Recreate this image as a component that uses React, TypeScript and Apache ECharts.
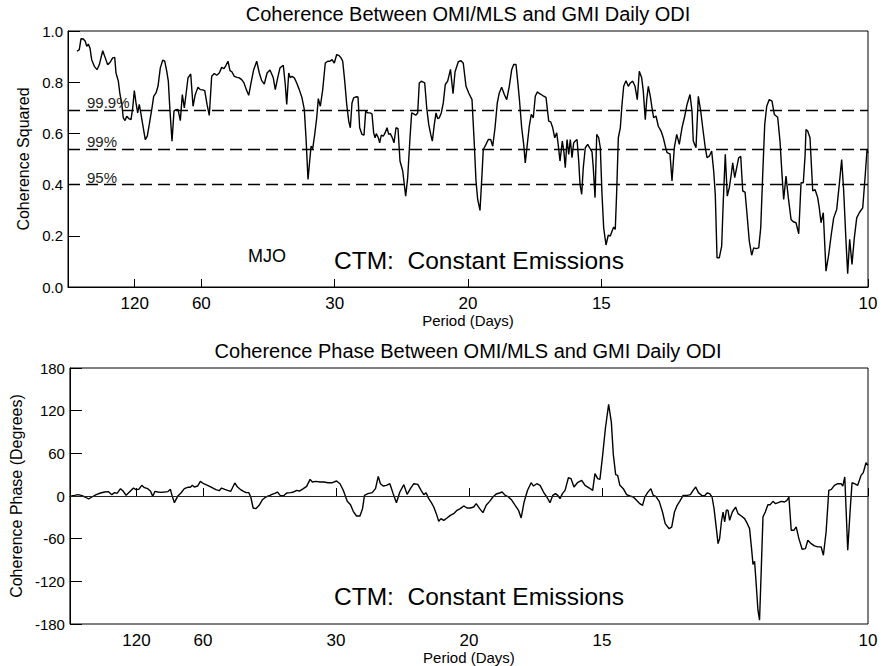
import React, { useEffect, useRef } from 'react';
import * as echarts from 'echarts';

// Frequency in 1e-3 cycles/day, paired with coherence squared
const coherenceSquared: [number, number][] = [
  [1.13,0.921],[1.41,0.927],[1.63,0.970],[1.91,0.969],[2.16,0.960],[2.34,0.940],[2.54,0.949],[2.75,0.933],[2.96,0.888],[3.29,0.862],[3.63,0.849],[3.91,0.868],[4.34,0.923],[4.66,0.895],[4.96,0.868],[5.29,0.879],[5.59,0.895],[5.84,0.897],[6.00,0.836],[6.29,0.804],[6.50,0.752],[6.71,0.719],[6.91,0.661],[7.13,0.650],[7.34,0.667],[7.59,0.658],[7.88,0.654],[8.09,0.700],[8.29,0.767],[8.50,0.719],[8.71,0.680],[8.91,0.713],[9.13,0.674],[9.41,0.622],[9.66,0.576],[9.91,0.589],[10.16,0.635],[10.50,0.700],[10.71,0.745],[11.00,0.758],[11.25,0.784],[11.54,0.856],[11.84,0.886],[12.09,0.882],[12.34,0.843],[12.54,0.804],[12.75,0.687],[13.00,0.570],[13.25,0.687],[13.50,0.693],[13.75,0.694],[14.04,0.650],[14.29,0.752],[14.54,0.700],[14.75,0.752],[15.00,0.817],[15.34,0.832],[15.63,0.706],[15.91,0.752],[16.25,0.780],[16.54,0.771],[16.84,0.770],[17.09,0.767],[17.38,0.713],[17.66,0.670],[17.96,0.823],[18.29,0.834],[18.59,0.827],[18.91,0.836],[19.21,0.858],[19.50,0.853],[19.75,0.866],[20.00,0.882],[20.25,0.845],[20.50,0.840],[20.79,0.823],[21.13,0.819],[21.41,0.817],[21.71,0.810],[22.00,0.797],[22.29,0.771],[22.59,0.749],[22.88,0.797],[23.21,0.849],[23.59,0.882],[23.91,0.836],[24.21,0.806],[24.54,0.793],[24.88,0.836],[25.25,0.848],[25.66,0.817],[25.91,0.771],[26.21,0.817],[26.50,0.856],[26.91,0.866],[27.16,0.791],[27.34,0.713],[27.59,0.836],[27.79,0.817],[28.00,0.823],[28.29,0.817],[28.59,0.797],[28.91,0.771],[29.25,0.739],[29.54,0.693],[29.75,0.583],[30.00,0.420],[30.21,0.492],[30.38,0.550],[30.59,0.541],[30.84,0.596],[31.09,0.661],[31.29,0.736],[31.54,0.706],[31.84,0.771],[32.16,0.875],[32.46,0.882],[32.75,0.882],[33.00,0.888],[33.29,0.875],[33.59,0.908],[33.84,0.905],[34.13,0.895],[34.34,0.882],[34.59,0.804],[34.84,0.713],[35.09,0.648],[35.29,0.622],[35.50,0.719],[35.71,0.739],[36.00,0.743],[36.25,0.742],[36.46,0.622],[36.75,0.596],[37.00,0.593],[37.21,0.687],[37.46,0.680],[37.75,0.680],[38.00,0.676],[38.21,0.602],[38.38,0.583],[38.54,0.599],[38.79,0.583],[38.96,0.563],[39.16,0.593],[39.41,0.589],[39.63,0.602],[39.88,0.622],[40.09,0.596],[40.29,0.599],[40.54,0.583],[40.75,0.563],[41.00,0.622],[41.25,0.619],[41.50,0.492],[41.84,0.453],[42.21,0.355],[42.46,0.427],[42.75,0.583],[42.96,0.680],[43.21,0.676],[43.46,0.671],[43.71,0.680],[43.91,0.797],[44.16,0.804],[44.34,0.801],[44.59,0.797],[44.84,0.700],[45.09,0.635],[45.34,0.596],[45.54,0.570],[45.79,0.635],[46.00,0.680],[46.21,0.658],[46.41,0.661],[46.66,0.680],[46.91,0.719],[47.16,0.791],[47.46,0.804],[47.81,0.850],[48.13,0.755],[48.38,0.841],[48.79,0.880],[49.13,0.884],[49.41,0.874],[49.75,0.784],[50.09,0.758],[50.50,0.732],[50.79,0.557],[51.00,0.414],[51.21,0.342],[51.50,0.299],[51.75,0.440],[51.91,0.537],[52.25,0.557],[52.54,0.576],[52.84,0.576],[53.09,0.550],[53.38,0.622],[53.66,0.719],[53.91,0.758],[54.21,0.780],[54.54,0.752],[54.84,0.732],[55.16,0.784],[55.46,0.849],[55.71,0.869],[56.00,0.869],[56.21,0.804],[56.41,0.739],[56.71,0.622],[56.96,0.557],[57.16,0.485],[57.41,0.557],[57.66,0.628],[57.91,0.674],[58.16,0.661],[58.41,0.745],[58.66,0.762],[59.00,0.754],[59.34,0.748],[59.75,0.741],[60.09,0.648],[60.34,0.645],[60.59,0.622],[60.84,0.583],[61.09,0.602],[61.25,0.563],[61.50,0.492],[61.79,0.570],[62.00,0.524],[62.16,0.466],[62.38,0.576],[62.59,0.518],[62.79,0.576],[63.00,0.505],[63.21,0.563],[63.41,0.570],[63.63,0.576],[63.84,0.492],[64.00,0.401],[64.21,0.362],[64.41,0.466],[64.66,0.544],[64.96,0.557],[65.25,0.541],[65.50,0.528],[65.66,0.466],[65.88,0.349],[66.09,0.596],[66.34,0.583],[66.54,0.544],[66.75,0.362],[66.96,0.231],[67.25,0.164],[67.54,0.203],[67.79,0.199],[68.00,0.218],[68.21,0.234],[68.41,0.225],[68.59,0.375],[68.79,0.583],[69.04,0.622],[69.25,0.713],[69.46,0.784],[69.75,0.806],[70.04,0.784],[70.29,0.797],[70.59,0.804],[70.88,0.784],[71.16,0.732],[71.41,0.843],[71.71,0.817],[71.91,0.765],[72.16,0.654],[72.34,0.732],[72.54,0.784],[72.79,0.745],[73.00,0.700],[73.21,0.661],[73.50,0.668],[73.79,0.628],[74.13,0.609],[74.41,0.583],[74.66,0.550],[74.88,0.525],[75.25,0.520],[75.50,0.414],[75.79,0.544],[76.09,0.596],[76.41,0.557],[76.75,0.622],[77.09,0.667],[77.38,0.713],[77.75,0.752],[78.00,0.687],[78.16,0.570],[78.50,0.544],[78.79,0.745],[79.09,0.687],[79.34,0.622],[79.66,0.544],[79.88,0.505],[80.16,0.511],[80.46,0.531],[80.71,0.453],[80.91,0.362],[81.13,0.114],[81.41,0.114],[81.71,0.160],[81.91,0.336],[82.16,0.518],[82.41,0.355],[82.66,0.388],[82.91,0.440],[83.09,0.485],[83.34,0.427],[83.59,0.466],[83.84,0.505],[84.09,0.511],[84.34,0.375],[84.63,0.371],[84.88,0.283],[85.16,0.179],[85.46,0.124],[85.71,0.153],[86.00,0.150],[86.34,0.153],[86.59,0.231],[86.84,0.440],[87.09,0.635],[87.34,0.706],[87.66,0.732],[88.00,0.726],[88.29,0.674],[88.71,0.663],[89.00,0.570],[89.25,0.440],[89.46,0.342],[89.75,0.433],[90.04,0.349],[90.38,0.264],[90.66,0.255],[91.00,0.251],[91.34,0.208],[91.63,0.407],[91.91,0.407],[92.13,0.511],[92.25,0.615],[92.46,0.609],[92.75,0.583],[93.09,0.375],[93.38,0.381],[93.71,0.349],[93.91,0.309],[94.13,0.251],[94.41,0.290],[94.75,0.062],[95.09,0.127],[95.41,0.205],[95.71,0.270],[96.09,0.303],[96.41,0.401],[96.71,0.498],[96.96,0.375],[97.25,0.179],[97.46,0.052],[97.71,0.186],[98.00,0.088],[98.29,0.192],[98.59,0.270],[98.91,0.290],[99.34,0.309],[99.63,0.427],[99.88,0.537],[100.00,0.524]
];

// Frequency in 1e-3 cycles/day, paired with coherence phase in degrees
const coherencePhase: [number, number][] = [
  [0.16,0],[0.59,0.9],[1.00,1.9],[1.41,0.9],[1.91,-1.4],[2.34,-4.2],[2.75,-1.4],[3.29,1.9],[3.84,4.2],[4.34,5.6],[4.84,6.1],[5.25,1.9],[5.59,4.7],[5.91,3.7],[6.34,10.3],[6.66,7.0],[7.04,0.9],[7.46,5.6],[7.96,11.2],[8.29,8.9],[8.63,9.4],[9.00,15.0],[9.34,11.7],[9.75,10.3],[10.09,7.0],[10.38,-0.5],[10.66,6.6],[11.00,5.6],[11.41,5.1],[11.84,5.6],[12.25,6.1],[12.59,9.4],[12.79,0.9],[13.09,-9.4],[13.50,-0.5],[13.91,4.2],[14.34,10.3],[14.75,12.2],[15.09,12.2],[15.34,15.0],[15.59,12.6],[16.00,14.0],[16.34,20.6],[16.75,17.3],[17.25,15.0],[17.75,12.2],[18.29,8.9],[18.71,7.5],[19.00,11.2],[19.41,9.4],[19.75,8.0],[20.16,6.6],[20.66,18.3],[21.00,12.6],[21.34,9.4],[21.75,6.6],[22.09,4.7],[22.41,4.7],[22.66,-1.4],[22.96,-16.9],[23.29,-17.8],[23.71,-13.1],[24.13,-5.2],[24.54,-1.4],[25.09,0.9],[25.25,1.9],[25.66,3.7],[26.00,5.6],[26.34,0.9],[26.75,0],[27.16,4.2],[27.66,4.7],[28.00,5.6],[28.41,8.0],[28.75,7.0],[29.25,10.3],[29.66,13.6],[30.09,23.4],[30.38,19.7],[30.79,20.6],[31.34,19.7],[31.84,19.7],[32.34,18.7],[32.88,18.7],[33.41,21.1],[33.84,17.3],[34.25,8.0],[34.75,-7.5],[35.16,-12.2],[35.50,-21.5],[35.91,-28.1],[36.34,-28.1],[36.66,-17.8],[36.91,0.9],[37.34,3.3],[37.88,4.7],[38.29,10.3],[38.63,27.6],[38.91,17.3],[39.25,14.0],[39.66,15.0],[40.09,17.3],[40.50,3.3],[40.91,-9.4],[41.34,5.6],[41.84,15.9],[42.25,2.3],[42.66,10.3],[43.09,17.3],[43.59,16.4],[44.00,8.0],[44.34,1.9],[44.63,4.7],[44.96,-3.7],[45.29,-9.4],[45.59,-15.5],[45.91,-24.8],[46.21,-35.6],[46.50,-31.8],[46.84,-34.2],[47.25,-30.9],[47.66,-27.2],[48.09,-24.8],[48.50,-20.1],[48.91,-17.8],[49.34,-14.0],[49.75,-16.9],[50.16,-16.9],[50.59,-15.5],[50.91,-10.8],[51.34,-17.8],[51.75,-23.4],[52.16,-13.1],[52.59,-7.5],[53.00,-1.4],[53.41,2.8],[53.84,4.2],[54.16,5.6],[54.54,0.9],[54.96,-1.4],[55.38,-6.1],[55.79,-13.1],[56.21,-20.1],[56.54,-30.9],[56.91,-8.4],[57.34,8.0],[57.79,18.7],[58.09,14.0],[58.50,17.3],[58.91,15.0],[59.34,5.6],[59.75,-1.4],[60.16,-9.4],[60.50,0.9],[60.84,3.3],[61.13,0.9],[61.41,-3.7],[61.71,3.3],[62.04,8.0],[62.46,25.7],[62.79,24.4],[63.16,12.6],[63.59,18.7],[64.13,22.0],[64.54,15.0],[65.09,11.2],[65.50,8.0],[65.79,31.4],[66.13,24.4],[66.41,23.4],[66.75,57.1],[67.09,94.6],[67.50,128.8],[67.84,103.9],[68.09,58.1],[68.38,30.0],[68.63,29.0],[68.91,15.0],[69.34,10.3],[69.75,1.9],[70.16,0],[70.59,-1.4],[71.00,-6.1],[71.41,-10.8],[71.75,-13.1],[72.04,-1.4],[72.38,4.7],[72.79,10.3],[73.09,0.9],[73.41,-0.5],[73.84,-7.5],[74.25,-22.5],[74.59,-38.9],[75.09,-46.0],[75.41,-43.5],[75.75,-22.5],[76.09,-13.1],[76.41,-7.5],[76.84,0.9],[77.34,0.9],[77.75,1.9],[78.09,8.0],[78.41,12.6],[78.75,4.7],[79.16,0.9],[79.50,0],[79.84,4.2],[80.16,3.3],[80.46,-1.4],[80.71,-17.8],[81.00,-45.9],[81.21,-67.0],[81.41,-59.9],[81.63,-36.5],[81.84,-22.5],[82.04,-36.5],[82.25,-20.1],[82.46,-20.1],[82.66,-34.2],[83.00,-22.5],[83.41,-15.5],[83.71,-24.8],[84.13,-28.1],[84.54,-31.8],[84.88,-38.9],[85.16,-45.9],[85.41,-74.0],[85.59,-96.4],[85.79,-91.8],[86.00,-125.5],[86.21,-160.6],[86.41,-174.6],[86.63,-102.0],[86.84,-29.5],[87.13,-22.5],[87.46,-12.2],[87.75,-12.2],[88.09,-7.5],[88.41,-10.8],[88.75,-9.4],[89.13,-7.5],[89.54,-8.4],[89.84,-6.1],[90.09,-1.4],[90.38,-48.2],[90.71,-48.2],[91.00,-43.5],[91.34,-59.9],[91.75,-74.9],[92.16,-74.0],[92.46,-62.3],[92.88,-67.0],[93.29,-70.2],[93.71,-71.6],[94.13,-71.6],[94.41,-83.3],[94.75,-50.6],[95.09,8.0],[95.41,9.4],[95.79,15.0],[96.21,17.3],[96.63,17.3],[96.84,14.0],[97.09,26.7],[97.46,-76.3],[97.75,-22.5],[98.00,18.7],[98.29,17.3],[98.71,15.0],[99.13,29.0],[99.41,32.8],[99.75,46.8],[100.00,43.1]
];

const periodTicks = [120, 60, 30, 20, 15, 10];
const confidenceLevels = [0.685, 0.535, 0.395];
const confidenceLabels = ['99.9%', '99%', '95%'];
const cohYTicks = { min: 0, max: 1, interval: 0.2 };
const phaseYTicks = { min: -180, max: 180, interval: 60 };

const FONT = '"Liberation Sans", Arial, Helvetica, sans-serif';
const INK = '#000';

export default function App() {
  const ref = useRef<HTMLDivElement>(null);

  useEffect(() => {
    if (!ref.current) return;
    const chart = echarts.init(ref.current, null, { renderer: 'svg' });
    const tickFreqs = periodTicks.map((p) => 1 / p);

    const makeX = (gridIndex: number, nameGap: number) => ({
      type: 'value',
      gridIndex,
      min: 0,
      max: 0.1,
      splitLine: { show: false },
      axisLine: { show: true, lineStyle: { color: INK, width: 1 } },
      axisTick: { show: true, inside: true, length: 8, customValues: tickFreqs, lineStyle: { color: INK, width: 1 } },
      axisLabel: {
        customValues: tickFreqs,
        showMinLabel: true,
        showMaxLabel: true,
        formatter: (v: number) => String(Math.round(1 / v)),
        fontSize: 17,
        color: INK,
        margin: 8,
        fontFamily: FONT,
      },
      name: 'Period (Days)',
      nameLocation: 'middle',
      nameGap,
      nameTextStyle: { fontSize: 15, color: INK, fontFamily: FONT },
    });

    const makeY = (gridIndex: number, ticks: any, name: string, nameGap: number, digits: number) => ({
      type: 'value',
      gridIndex,
      min: ticks.min,
      max: ticks.max,
      interval: ticks.interval,
      splitLine: { show: false },
      axisLine: { show: true, lineStyle: { color: INK, width: 1 } },
      axisTick: { show: true, inside: true, length: 12, lineStyle: { color: INK, width: 1 } },
      axisLabel: {
        formatter: (v: number) => v.toFixed(digits),
        fontSize: 15,
        color: INK,
        margin: 5,
        fontFamily: FONT,
      },
      name,
      nameLocation: 'middle',
      nameGap,
      nameTextStyle: { fontSize: 16, color: INK, fontFamily: FONT },
    });

    const option: any = {
      animation: false,
      backgroundColor: '#fff',
      textStyle: { fontFamily: FONT },
      grid: [
        { left: 68, top: 31, width: 800, height: 256, show: true, borderColor: INK, borderWidth: 1, backgroundColor: 'transparent' },
        { left: 68, top: 368, width: 800, height: 256, show: true, borderColor: INK, borderWidth: 1, backgroundColor: 'transparent' },
      ],
      xAxis: [makeX(0, 24), makeX(1, 24)],
      yAxis: [
        makeY(0, cohYTicks, 'Coherence Squared', 35, 1),
        makeY(1, phaseYTicks, 'Coherence Phase (Degrees)', 45, 0),
      ],
      series: [
        {
          type: 'line',
          xAxisIndex: 0,
          yAxisIndex: 0,
          data: coherenceSquared.map(([f, v]) => [f / 1000, v]),
          showSymbol: false,
          symbol: 'none',
          lineStyle: { color: INK, width: 1.4 },
          markLine: {
            silent: true,
            symbol: 'none',
            lineStyle: { type: [12, 6], color: INK, width: 1.3 },
            label: {
              show: true,
              position: 'insideStartTop',
              fontSize: 15,
              color: '#222',
              fontFamily: FONT,
              distance: [19, 0],
            },
            data: confidenceLevels.map((lv, i) => ({
              yAxis: lv,
              label: { formatter: confidenceLabels[i] },
            })),
          },
        },
        {
          type: 'line',
          xAxisIndex: 1,
          yAxisIndex: 1,
          data: coherencePhase.map(([f, v]) => [f / 1000, v]),
          showSymbol: false,
          symbol: 'none',
          lineStyle: { color: INK, width: 1.4 },
          markLine: {
            silent: true,
            symbol: 'none',
            lineStyle: { type: 'solid', color: '#222', width: 1.2 },
            label: { show: false },
            data: [{ yAxis: 0 }],
          },
        },
      ],
      graphic: [
        { type: 'text', x: 468, y: 4, style: { text: 'Coherence Between OMI/MLS and GMI Daily ODI', font: `20px ${FONT}`, fill: INK, align: 'center', verticalAlign: 'top' } },
        { type: 'text', x: 468, y: 341, style: { text: 'Coherence Phase Between OMI/MLS and GMI Daily ODI', font: `20px ${FONT}`, fill: INK, align: 'center', verticalAlign: 'top' } },
        { type: 'text', x: 248, y: 247, style: { text: 'MJO', font: `18px ${FONT}`, fill: INK, align: 'left', verticalAlign: 'top' } },
        { type: 'text', x: 334, y: 248, style: { text: 'CTM:  Constant Emissions', font: `24.5px ${FONT}`, fill: INK, align: 'left', verticalAlign: 'top' } },
        { type: 'text', x: 334, y: 584, style: { text: 'CTM:  Constant Emissions', font: `24.5px ${FONT}`, fill: INK, align: 'left', verticalAlign: 'top' } },
      ],
    };

    chart.setOption(option);
    return () => chart.dispose();
  }, []);

  return (
    <div
      ref={ref}
      style={{ position: 'absolute', left: 0, top: 0, width: 881, height: 666, background: '#fff' }}
    />
  );
}
